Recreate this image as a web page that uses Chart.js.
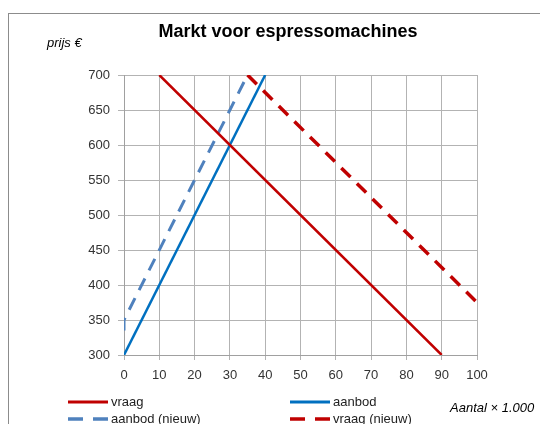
<!DOCTYPE html>
<html>
<head>
<meta charset="utf-8">
<script src="https://cdn.jsdelivr.net/npm/chart.js@4/dist/chart.umd.min.js"></script>
<style>
  html, body { margin: 0; padding: 0; background: #fff; overflow: hidden; }
  #wrap { position: relative; width: 540px; height: 424px; }
  #frame { position: absolute; left: 8px; top: 13px; width: 600px; height: 500px; border: 1px solid #8c8c8c; }
  canvas { position: absolute; left: 0; top: 0; }
</style>
</head>
<body>
<div id="wrap">
  <div id="frame"></div>
  <canvas id="chart" width="540" height="424"></canvas>
</div>
<script>
// ─── DATA ─────────────────────────────────────────────────────
const vraagQ       = [10, 90];
const vraagP       = [700, 300];
const aanbodQ      = [0, 40];
const aanbodP      = [300, 700];
const aanbodNieuwQ = [0, 0, 35];
const aanbodNieuwP = [335, 350, 700];
const vraagNieuwQ  = [35, 100];
const vraagNieuwP  = [700, 375];

const xTicks = [0, 10, 20, 30, 40, 50, 60, 70, 80, 90, 100];
const yTicks = [300, 350, 400, 450, 500, 550, 600, 650, 700];

const pts = (qs, ps) => qs.map((q, i) => ({ x: q, y: ps[i] }));

const FONT = '"Liberation Sans", Arial, sans-serif';

// ─── LEGEND + LABELS (drawn on canvas) ────────────────────────
const extras = {
    id: 'extras',
    afterDraw(chart) {
        const ctx = chart.ctx;
        ctx.save();
        ctx.fillStyle = '#000';
        ctx.textBaseline = 'middle';

        // title
        ctx.font = 'bold 18px ' + FONT;
        ctx.textAlign = 'center';
        ctx.fillText('Markt voor espressomachines', 288, 32);

        // axis captions
        ctx.font = 'italic 13px ' + FONT;
        ctx.textAlign = 'left';
        ctx.fillText('prijs €', 47, 43);
        ctx.fillText('Aantal × 1.000', 450, 408);

        // legend, two columns
        const slots = [[68, 402], [290, 402], [68, 419], [290, 419]];
        ctx.font = '13px ' + FONT;
        chart.data.datasets.forEach((ds, k) => {
            const [x, y] = slots[k];
            ctx.strokeStyle = ds.borderColor;
            ctx.lineWidth = ds.borderDash ? 3.5 : 3;
            ctx.setLineDash(ds.borderDash ? [15, 10] : []);
            ctx.beginPath();
            ctx.moveTo(x, y);
            ctx.lineTo(x + 40, y);
            ctx.stroke();
            ctx.setLineDash([]);
            ctx.fillStyle = '#222';
            ctx.fillText(ds.label, x + 43, y);
        });
        ctx.restore();
    }
};

// ─── CHART ────────────────────────────────────────────────────
new Chart(document.getElementById('chart'), {
    type: 'scatter',
    data: {
        datasets: [
            { label: 'vraag',          data: pts(vraagQ, vraagP),             borderColor: '#c00000', borderWidth: 2.5 },
            { label: 'aanbod',         data: pts(aanbodQ, aanbodP),           borderColor: '#0070c0', borderWidth: 2.5 },
            { label: 'aanbod (nieuw)', data: pts(aanbodNieuwQ, aanbodNieuwP), borderColor: '#4f81bd', borderWidth: 3, borderDash: [13, 9] },
            { label: 'vraag (nieuw)',  data: pts(vraagNieuwQ, vraagNieuwP),   borderColor: '#c00000', borderWidth: 3.5, borderDash: [13, 9] },
        ].map(d => ({ ...d, showLine: true, pointRadius: 0, pointHoverRadius: 0, fill: false, tension: 0 }))
    },
    options: {
        responsive: false,
        animation: false,
        events: [],
        layout: { padding: { left: 0, top: 75, right: 63, bottom: 0 } },
        plugins: { legend: { display: false }, tooltip: { enabled: false }, title: { display: false } },
        scales: {
            x: {
                type: 'linear', min: 0, max: 100,
                afterBuildTicks: s => { s.ticks = xTicks.map(v => ({ value: v })); },
                afterFit: s => { s.height = 69; },
                grid: { color: '#b3b3b3', lineWidth: 1, tickLength: 5 },
                border: { color: '#a0a0a0' },
                ticks: { color: '#333', font: { family: FONT, size: 13 }, padding: 8, maxRotation: 0 }
            },
            y: {
                type: 'linear', min: 300, max: 700,
                afterBuildTicks: s => { s.ticks = yTicks.map(v => ({ value: v })); },
                afterFit: s => { s.width = 124; },
                grid: { color: '#b3b3b3', lineWidth: 1, tickLength: 6 },
                border: { color: '#a0a0a0' },
                ticks: { color: '#333', font: { family: FONT, size: 13 }, padding: 8 }
            }
        }
    },
    plugins: [extras]
});
</script>
</body>
</html>
